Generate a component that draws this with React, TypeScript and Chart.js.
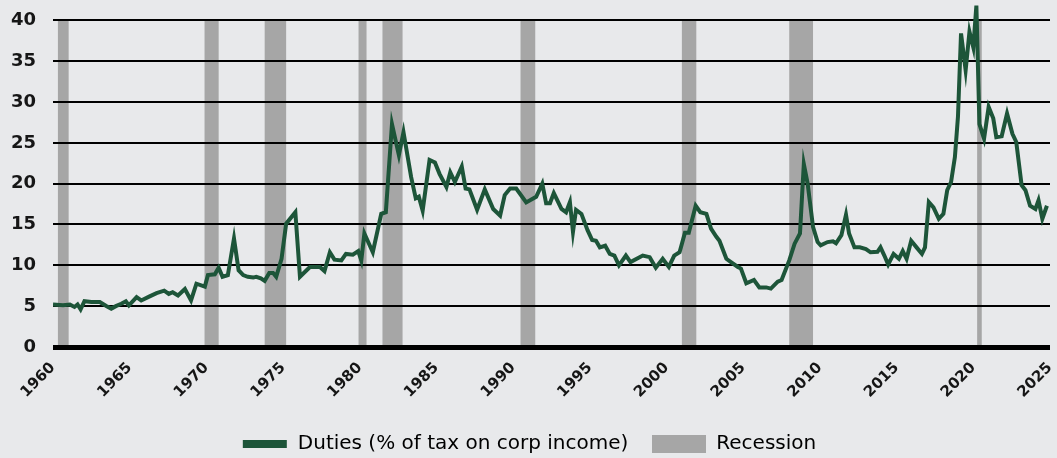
import React, { useEffect, useRef } from 'react';
import { Chart, registerables } from 'chart.js';

Chart.register(...registerables);

// ---- Data ----
const years = [
  1960.0, 1960.65, 1961.1, 1961.4, 1961.6, 1961.8, 1962.05, 1962.5, 1963.05, 1963.5,
  1963.8, 1964.1, 1964.45, 1964.75, 1964.95, 1965.45, 1965.75, 1966.3, 1966.75, 1967.25,
  1967.55, 1967.8, 1968.15, 1968.6, 1969.0, 1969.35, 1969.9, 1970.1, 1970.55, 1970.8,
  1971.05, 1971.4, 1971.8, 1972.1, 1972.4, 1972.7, 1973.05, 1973.25, 1973.55, 1973.8,
  1974.1, 1974.35, 1974.55, 1974.9, 1975.2, 1975.8, 1976.1, 1976.75, 1977.4, 1977.7,
  1978.05, 1978.35, 1978.8, 1979.1, 1979.55, 1979.9, 1980.1, 1980.3, 1980.85, 1981.4,
  1981.7, 1982.1, 1982.55, 1982.85, 1983.35, 1983.65, 1983.85, 1984.1, 1984.55, 1984.9,
  1985.2, 1985.65, 1985.9, 1986.2, 1986.65, 1986.9, 1987.15, 1987.65, 1988.15, 1988.7,
  1989.15, 1989.45, 1989.8, 1990.2, 1990.85, 1991.5, 1991.9, 1992.15, 1992.4, 1992.65,
  1993.15, 1993.45, 1993.7, 1993.9, 1994.1, 1994.45, 1994.85, 1995.15, 1995.4, 1995.65,
  1996.0, 1996.3, 1996.6, 1996.9, 1997.35, 1997.65, 1998.45, 1998.9, 1999.3, 1999.75,
  2000.15, 2000.5, 2000.85, 2001.2, 2001.45, 2001.9, 2002.2, 2002.6, 2002.9, 2003.25,
  2003.45, 2003.9, 2004.2, 2004.65, 2004.85, 2005.2, 2005.7, 2006.05, 2006.5, 2006.8,
  2007.25, 2007.5, 2008.0, 2008.35, 2008.7, 2008.95, 2009.2, 2009.55, 2009.85, 2010.05,
  2010.5, 2010.85, 2011.05, 2011.4, 2011.7, 2011.9, 2012.25, 2012.6, 2013.0, 2013.3,
  2013.75, 2013.95, 2014.2, 2014.45, 2014.8, 2015.15, 2015.4, 2015.65, 2015.95, 2016.3,
  2016.65, 2016.85, 2017.1, 2017.4, 2017.75, 2018.05, 2018.3, 2018.55, 2018.8, 2019.0,
  2019.2, 2019.5, 2019.75, 2020.0, 2020.2, 2020.4, 2020.7, 2021.0, 2021.3, 2021.5,
  2021.85, 2022.2, 2022.55, 2022.8, 2023.15, 2023.4, 2023.7, 2024.05, 2024.25, 2024.5, 2024.8,
];

const duties = [
  5.2, 5.1, 5.2, 4.9, 5.2, 4.6, 5.6, 5.5, 5.5, 5.0,
  4.7, 5.0, 5.3, 5.6, 5.1, 6.1, 5.7, 6.2, 6.6, 6.9,
  6.5, 6.7, 6.3, 7.1, 5.7, 7.75, 7.4, 8.8, 8.9, 9.7,
  8.6, 8.8, 13.3, 9.4, 8.8, 8.6, 8.5, 8.6, 8.4, 8.1,
  9.05, 9.05, 8.6, 10.8, 15.1, 16.5, 8.6, 9.8, 9.8, 9.3,
  11.6, 10.7, 10.6, 11.4, 11.3, 11.75, 10.6, 13.9, 11.6, 16.3,
  16.5, 27.3, 23.5, 26.3, 20.8, 18.2, 18.4, 16.7, 22.9, 22.6,
  21.2, 19.6, 21.4, 20.2, 22.1, 19.4, 19.3, 16.8, 19.3, 16.9,
  16.1, 18.6, 19.4, 19.4, 17.7, 18.4, 20.0, 17.6, 17.6, 18.85,
  16.9, 16.5, 17.75, 14.1, 16.8, 16.3, 14.3, 13.1, 13.0, 12.2,
  12.4, 11.4, 11.2, 10.0, 11.2, 10.4, 11.2, 11.0, 9.7, 10.8,
  9.8, 11.2, 11.6, 14.0, 14.0, 17.3, 16.5, 16.3, 14.5, 13.5,
  13.0, 10.8, 10.4, 9.8, 9.6, 7.8, 8.2, 7.3, 7.3, 7.15,
  8.0, 8.2, 10.6, 12.65, 13.9, 22.4, 20.0, 14.7, 12.85, 12.45,
  12.85, 12.95, 12.7, 13.7, 16.2, 13.9, 12.2, 12.2, 12.0, 11.6,
  11.65, 12.2, 11.2, 10.1, 11.4, 10.8, 11.75, 10.8, 13.0, 12.2,
  11.4, 12.2, 17.75, 17.1, 15.7, 16.3, 19.2, 20.2, 23.25, 28.2,
  38.4, 33.9, 38.6, 36.7, 41.8, 27.3, 25.5, 29.4, 28.0, 25.7,
  25.8, 28.6, 26.1, 25.1, 19.8, 19.2, 17.3, 16.9, 17.95, 15.7, 17.3,
];

const recessionStarts = [1960.32, 1969.88, 1973.8, 1979.92, 1981.48, 1990.48, 2001.0, 2008.0, 2020.25];
const recessionEnds = [1961.02, 1970.8, 1975.2, 1980.44, 1982.79, 1991.44, 2001.94, 2009.55, 2020.55];

const xTickValues = [1960, 1965, 1970, 1975, 1980, 1985, 1990, 1995, 2000, 2005, 2010, 2015, 2020, 2025];
const yTickValues = [0, 5, 10, 15, 20, 25, 30, 35, 40];
const xMin = 1960;
const xMax = 2025;
const yMin = 0;
const yMax = 42;
const recessionTop = 40;

const seriesLabel = 'Duties (% of tax on corp income)';
const recessionLabel = 'Recession';

// ---- Styles ----
const BG = '#E8E9EB';
const GREEN = '#1D5539';
const REC = '#A6A6A6';
const TEXT = '#161616';
const FONT = "'DejaVu Sans', sans-serif";

const recessionPlugin = {
  id: 'recessionBands',
  beforeDraw(chart: any) {
    const { ctx, scales } = chart;
    const x = scales.x;
    const y = scales.y;
    const top = y.getPixelForValue(recessionTop);
    const bottom = y.getPixelForValue(0);
    ctx.save();
    ctx.fillStyle = REC;
    recessionStarts.forEach((s, i) => {
      const x0 = x.getPixelForValue(s);
      const x1 = x.getPixelForValue(recessionEnds[i]);
      ctx.fillRect(x0, top, x1 - x0, bottom - top);
    });
    ctx.restore();
  },
};

export default function App() {
  const ref = useRef<HTMLCanvasElement>(null);

  useEffect(() => {
    document.body.style.margin = '0';
    document.body.style.background = BG;

    const greenSwatch = document.createElement('canvas');
    greenSwatch.width = 54;
    greenSwatch.height = 8;
    const g = greenSwatch.getContext('2d')!;
    g.fillStyle = GREEN;
    g.fillRect(9, 0, 44, 8);

    const greySwatch = document.createElement('canvas');
    greySwatch.width = 54;
    greySwatch.height = 18;
    const gg = greySwatch.getContext('2d')!;
    gg.fillStyle = REC;
    gg.fillRect(0, 0, 54, 18);

    const points = years.map((yr, i) => ({ x: yr, y: duties[i] }));

    const chart = new Chart(ref.current!, {
      type: 'line',
      data: {
        datasets: [
          {
            label: seriesLabel,
            data: points,
            borderColor: GREEN,
            backgroundColor: GREEN,
            borderWidth: 4,
            pointRadius: 0,
            tension: 0,
          },
        ],
      },
      options: {
        animation: false,
        responsive: false,
        layout: { padding: { top: 4, right: 7, left: 0, bottom: 0 } },
        plugins: {
          tooltip: { enabled: false },
          legend: {
            position: 'bottom',
            maxHeight: 48,
            labels: {
              usePointStyle: true,
              pointStyleWidth: 54,
              padding: 24,
              color: TEXT,
              font: { family: FONT, size: 20 },
              generateLabels: () => [
                {
                  text: seriesLabel,
                  pointStyle: greenSwatch as any,
                  fillStyle: GREEN,
                  strokeStyle: GREEN,
                  lineWidth: 0,
                  hidden: false,
                  datasetIndex: 0,
                },
                {
                  text: recessionLabel,
                  pointStyle: greySwatch as any,
                  fillStyle: REC,
                  strokeStyle: REC,
                  lineWidth: 0,
                  hidden: false,
                  datasetIndex: 0,
                },
              ],
            },
          },
        },
        scales: {
          x: {
            type: 'linear',
            min: xMin,
            max: xMax,
            grid: { display: false },
            border: { display: false },
            ticks: {
              autoSkip: false,
              minRotation: 45,
              maxRotation: 45,
              padding: 4,
              font: { family: FONT, size: 15, weight: 'bold' },
              color: TEXT,
              callback: (v: any) => String(v),
            },
            afterBuildTicks: (s: any) => {
              s.ticks = xTickValues.map((v) => ({ value: v }));
            },
            afterCalculateLabelRotation: (s: any) => {
              s.labelRotation = 45;
            },
            afterFit: (s: any) => {
              s.height = 63;
              s.paddingLeft = 0;
              s.paddingRight = 0;
            },
          },
          y: {
            min: yMin,
            max: yMax,
            border: { display: false },
            grid: {
              color: '#000000',
              drawTicks: false,
              lineWidth: (c: any) => (c.tick && c.tick.value === 0 ? 5 : 2),
            },
            ticks: {
              padding: 17,
              color: TEXT,
              font: { family: FONT, size: 18, weight: 'bold' },
            },
            afterBuildTicks: (s: any) => {
              s.ticks = yTickValues.map((v) => ({ value: v }));
            },
            afterFit: (s: any) => {
              s.width = 53;
              s.paddingTop = 0;
              s.paddingBottom = 0;
            },
          },
        },
      },
      plugins: [recessionPlugin],
    });

    return () => chart.destroy();
  }, []);

  return (
    <div style={{ width: 1057, height: 458, background: BG }}>
      <canvas ref={ref} width={1057} height={458} style={{ display: 'block' }} />
    </div>
  );
}
